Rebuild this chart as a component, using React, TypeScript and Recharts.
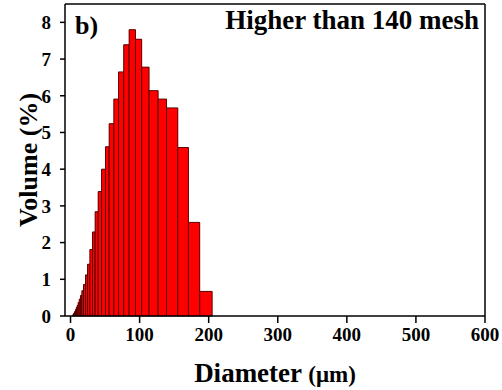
import { ComposedChart, XAxis, YAxis, Area, ReferenceArea } from 'recharts'

// bin edges (µm) of the size distribution
const binEdges = [
  2.9, 3.3, 3.8, 4.3, 4.9, 5.6, 6.4, 7.3, 8.4, 9.6, 11.0, 12.6, 14.4, 16.4, 18.8, 21.7, 24.6, 28,
  31.8, 35.6, 40, 44.9, 50.6, 55.9, 62.7, 69.5, 77, 84.8, 94, 103, 113.7, 126.8, 139, 155.3, 170.7,
  187, 205, 224,
]

// volume fraction (%) of each bin
const volume = [
  0.02, 0.03, 0.04, 0.06, 0.08, 0.11, 0.14, 0.18, 0.23, 0.29, 0.37, 0.46, 0.56, 0.69, 0.86, 1.12,
  1.41, 1.81, 2.29, 2.84, 3.39, 4.0, 4.61, 5.24, 5.91, 6.65, 7.39, 7.8, 7.54, 6.78, 6.14, 5.91, 5.67,
  4.59, 2.55, 0.67, 0,
]

const xTicks = [0, 100, 200, 300, 400, 500, 600]
const xMinor = [50, 150, 250, 350, 450, 550]
const yTicks = [0, 1, 2, 3, 4, 5, 6, 7, 8]
const yMinor = [0.5, 1.5, 2.5, 3.5, 4.5, 5.5, 6.5, 7.5]

const bins = volume.map((v, i) => ({ lo: binEdges[i], hi: binEdges[i + 1], v }))
// step outline: one point per left edge, closed at the last right edge
const steps = [...bins.map((b) => ({ d: b.lo, v: b.v })), { d: binEdges[binEdges.length - 1], v: 0 }]

const FONT = '"Liberation Serif", "Times New Roman", serif'
const AXIS = { stroke: '#000', strokeWidth: 1.5 }
const tickStyle = { fontSize: 19, fontWeight: 700, fontFamily: FONT, fill: '#000' }

function XTitle(props: any) {
  const vb = props.viewBox
  return (
    <text
      x={vb.x + vb.width / 2}
      y={vb.y + 66}
      textAnchor="middle"
      fontFamily={FONT}
      fontWeight={700}
      fontSize={27}
      fill="#000"
    >
      Diameter <tspan fontSize={23}>(μm)</tspan>
    </text>
  )
}

function YTitle(props: any) {
  const vb = props.viewBox
  const cx = 37
  const cy = vb.y + vb.height / 2
  return (
    <text
      x={cx}
      y={cy}
      transform={`rotate(-90, ${cx}, ${cy})`}
      textAnchor="middle"
      fontFamily={FONT}
      fontWeight={700}
      fontSize={26}
      fill="#000"
    >
      Volume (%)
    </text>
  )
}

export default function App() {
  return (
    <div style={{ position: 'absolute', left: 0, top: 0, background: '#fff' }}>
      <ComposedChart
        width={502}
        height={390}
        data={steps}
        margin={{ top: 4, right: 17, left: 0, bottom: 0 }}
      >
        <XAxis
          xAxisId={0}
          dataKey="d"
          type="number"
          domain={[-8, 600]}
          ticks={xTicks}
          allowDataOverflow
          height={74}
          axisLine={AXIS}
          tickLine={AXIS}
          tickSize={7}
          tickMargin={5}
          tick={tickStyle}
          label={{ content: XTitle }}
        />
        <XAxis
          xAxisId="minor"
          dataKey="d"
          type="number"
          domain={[-8, 600]}
          ticks={xMinor}
          allowDataOverflow
          mirror
          height={1}
          axisLine={false}
          tickLine={AXIS}
          tickSize={3}
          tick={false}
        />
        <XAxis
          xAxisId="top"
          dataKey="d"
          type="number"
          orientation="top"
          domain={[-8, 600]}
          allowDataOverflow
          mirror
          height={1}
          axisLine={AXIS}
          tickLine={false}
          tick={false}
        />
        <YAxis
          yAxisId={0}
          type="number"
          domain={[0, 8.5]}
          ticks={yTicks}
          allowDataOverflow
          width={65}
          axisLine={AXIS}
          tickLine={AXIS}
          tickSize={5}
          tickMargin={9}
          tick={tickStyle}
          label={{ content: YTitle }}
        />
        <YAxis
          yAxisId="minor"
          type="number"
          domain={[0, 8.5]}
          ticks={yMinor}
          allowDataOverflow
          mirror
          width={1}
          axisLine={false}
          tickLine={AXIS}
          tickSize={3}
          tick={false}
        />
        <YAxis
          yAxisId="right"
          type="number"
          orientation="right"
          domain={[0, 8.5]}
          allowDataOverflow
          mirror
          width={1}
          axisLine={AXIS}
          tickLine={false}
          tick={false}
        />
        <Area
          xAxisId={0}
          yAxisId={0}
          dataKey="v"
          type="stepAfter"
          fill="#ff0000"
          fillOpacity={1}
          stroke="none"
          isAnimationActive={false}
        />
        {bins.map((b) => (
          <ReferenceArea
            key={b.lo}
            xAxisId={0}
            yAxisId={0}
            x1={b.lo}
            x2={b.hi}
            y1={0}
            y2={b.v}
            fill="#ff0000"
            fillOpacity={1}
            stroke="#4a0000"
            strokeWidth={0.9}
            ifOverflow="visible"
          />
        ))}
        <text x={75} y={34} fontFamily={FONT} fontWeight={700} fontSize={26} fill="#000">
          b)
        </text>
        <text
          x={479}
          y={29}
          textAnchor="end"
          fontFamily={FONT}
          fontWeight={700}
          fontSize={27}
          fill="#000"
        >
          Higher than 140 mesh
        </text>
      </ComposedChart>
    </div>
  )
}
